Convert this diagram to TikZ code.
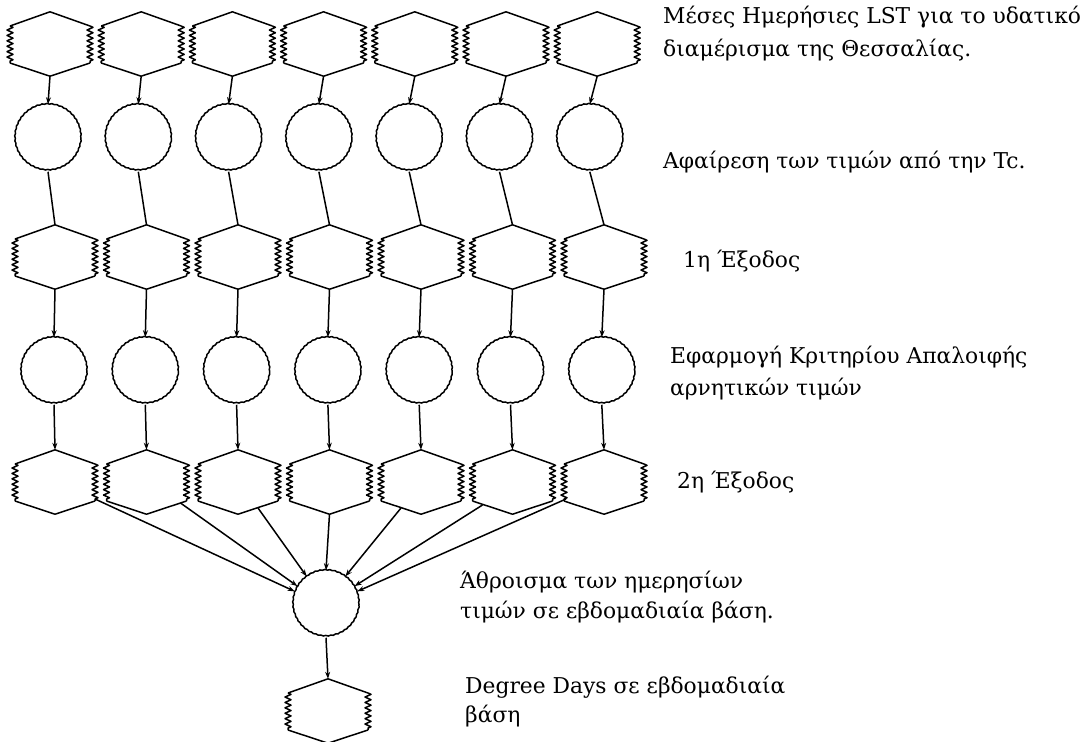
\documentclass[tikz,border=0pt]{standalone}
\usepackage{fontspec}
\setmainfont{DejaVu Serif}
\usetikzlibrary{calc,arrows.meta,decorations.pathmorphing}
\newcommand{\hexfig}[1]{%
  \draw[hexline] ($(#1.center)+(-40,-18)$) -- (#1.north) -- ($(#1.center)+(40,-18)$);
  \draw[hexline] ($(#1.center)+(-40,19)$) -- (#1.south) -- ($(#1.center)+(40,19)$);
  \draw[hexline,zz] ($(#1.center)+(-40,-18)$) -- ($(#1.center)+(-40,19)$);
  \draw[hexline,zz] ($(#1.center)+(40,-18)$) -- ($(#1.center)+(40,19)$);
}
\begin{document}
\begin{tikzpicture}[x=1pt,y=-1pt,
  hexnode/.style={draw=none, minimum width=80pt, minimum height=64pt, inner sep=0pt},
  circnode/.style={draw, circle, minimum size=66pt, inner sep=0pt, line width=1.5pt,
    decorate, decoration={snake, segment length=5pt, amplitude=0.35pt}},
  hexline/.style={line width=1.5pt, line join=round},
  zz/.style={decorate, decoration={zigzag, segment length=5.4pt, amplitude=3pt}},
  link/.style={line width=1.5pt},
  arr/.style={line width=1.5pt, -{Stealth[length=7pt,width=5pt]}},
  lbl/.style={anchor=base west, inner sep=0pt, font=\fontsize{21.8}{26}\selectfont}
]
\useasboundingbox (0,0) rectangle (1085,742);
\fill[white] (0,0) rectangle (1085,742);

\foreach \i in {1,...,7} {
  \node[hexnode] (a\i) at ({50+91.2*(\i-1)},44) {};
  \node[circnode] (c\i) at ({48+90.3*(\i-1)},138) {};
  \node[hexnode] (b\i) at ({55+91.5*(\i-1)},257) {};
  \node[circnode] (d\i) at ({54+91.3*(\i-1)},371) {};
  \node[hexnode] (e\i) at ({55+91.5*(\i-1)},482) {};
}
\node[circnode] (s) at (326,604) {};
\node[hexnode] (f) at (328,711) {};

\foreach \i in {1,...,7} {
  \hexfig{a\i}
  \hexfig{b\i}
  \hexfig{e\i}
  \draw[arr] (a\i.south) -- (c\i.north);
  \draw[link] (c\i.south) -- (b\i.north);
  \draw[arr] (b\i.south) -- (d\i.north);
  \draw[arr] (d\i.south) -- (e\i.north);
}
\hexfig{f}
\draw[arr] (s.south) -- (f.north);

\coordinate (p1) at ($(e1.center)+(40,17)$);
\coordinate (p2) at ($(e2.center)+(34,21)$);
\coordinate (p3) at ($(e3.center)+(20,26)$);
\coordinate (p5) at ($(e5.center)+(-20,26)$);
\coordinate (p6) at ($(e6.center)+(-30,23)$);
\coordinate (p7) at ($(e7.center)+(-38,17)$);
\draw[arr] (p1) -- (s.158);
\draw[arr] (p2) -- (s.148);
\draw[arr] (p3) -- (s.125);
\draw[arr] (e4.south) -- (s.north);
\draw[arr] (p5) -- (s.55);
\draw[arr] (p6) -- (s.32);
\draw[arr] (p7) -- (s.22);

\node[lbl] (t1a) at (663,23) {Μέσες Ημερήσιες LST για το υδατικό};
\node[lbl] (t1b) at (663,56) {διαμέρισμα της Θεσσαλίας.};
\node[lbl] (t2) at (663,168) {Αφαίρεση των τιμών από την Tc.};
\node[lbl] (t3) at (683,267) {1η Έξοδος};
\node[lbl] (t4a) at (670,363) {Εφαρμογή Κριτηρίου Απαλοιφής};
\node[lbl] (t4b) at (670,395) {αρνητικών τιμών};
\node[lbl] (t5) at (677,488) {2η Έξοδος};
\node[lbl] (t6a) at (460,588) {Άθροισμα των ημερησίων};
\node[lbl] (t6b) at (460,618) {τιμών σε εβδομαδιαία βάση.};
\node[lbl] (t7a) at (465,693) {Degree Days σε εβδομαδιαία};
\node[lbl] (t7b) at (465,722) {βάση};
\end{tikzpicture}
\end{document}
